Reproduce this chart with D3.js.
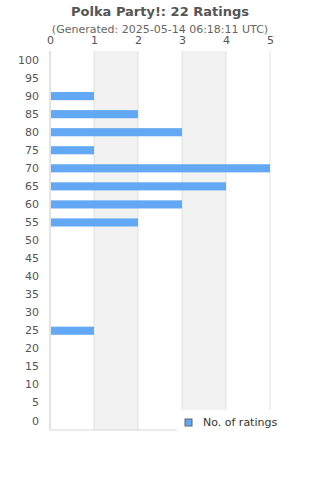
<!DOCTYPE html>
<html>
<head>
<meta charset="utf-8">
<script src="https://cdn.jsdelivr.net/npm/d3@7"></script>
<style>
  body { margin: 0; background: #fff; }
  text { font-family: "DejaVu Sans", sans-serif; }
</style>
</head>
<body>
<div id="chart"></div>
<script>
var svgWidth = 320;
var svgHeight = 480;

// ratings buckets, top to bottom
var buckets = ["100", "95", "90", "85", "80", "75", "70", "65", "60", "55", "50",
  "45", "40", "35", "30", "25", "20", "15", "10", "5", "0"];
var counts = [0, 0, 1, 2, 3, 1, 5, 4, 3, 2, 0, 0, 0, 0, 0, 1, 0, 0, 0, 0, 0];
var xTicks = [0, 1, 2, 3, 4, 5];

var margin = { top: 51, right: 50, bottom: 50, left: 50 };
var width = svgWidth - margin.left - margin.right;
var height = 430 - margin.top;

var svg = d3.select("#chart")
  .append("svg")
  .attr("width", svgWidth)
  .attr("height", svgHeight);

svg.append("text")
  .attr("x", svgWidth / 2)
  .attr("y", 16)
  .attr("text-anchor", "middle")
  .attr("font-size", 13)
  .attr("font-weight", "bold")
  .attr("fill", "#555")
  .text("Polka Party!: 22 Ratings");

svg.append("text")
  .attr("x", svgWidth / 2)
  .attr("y", 33)
  .attr("text-anchor", "middle")
  .attr("font-size", 11)
  .attr("fill", "#666")
  .text("(Generated: 2025-05-14 06:18:11 UTC)");

var chartGroup = svg.append("g")
  .attr("transform", `translate(${margin.left}, ${margin.top})`);

var xScale = d3.scaleLinear().domain([0, 5]).range([0, width]);
var yScale = d3.scaleBand().domain(buckets).range([0, height]).paddingInner(0.55).paddingOuter(0.275);

// alternating bands
chartGroup.selectAll("rect.band")
  .data(xTicks.slice(0, -1).filter(d => d % 2 === 1))
  .enter()
  .append("rect")
  .attr("class", "band")
  .attr("x", d => xScale(d))
  .attr("y", 0)
  .attr("width", d => xScale(d + 1) - xScale(d))
  .attr("height", height)
  .attr("fill", "#f2f2f2");

// grid lines
chartGroup.selectAll("line.grid")
  .data(xTicks)
  .enter()
  .append("line")
  .attr("class", "grid")
  .attr("x1", d => xScale(d))
  .attr("x2", d => xScale(d))
  .attr("y1", 0)
  .attr("y2", height)
  .attr("stroke", "#e0e0e0");

chartGroup.append("line")
  .attr("x1", 0).attr("x2", width)
  .attr("y1", height).attr("y2", height)
  .attr("stroke", "#d8d8d8");

chartGroup.append("line")
  .attr("x1", 0).attr("x2", 0)
  .attr("y1", 0).attr("y2", height)
  .attr("stroke", "#d8d8d8");

// top axis
var topAxis = d3.axisTop(xScale).tickValues(xTicks).tickFormat(d3.format("d"))
  .tickSize(0).tickPadding(7);
var gTop = chartGroup.append("g").call(topAxis);
gTop.select(".domain").remove();
gTop.selectAll("text").attr("font-size", 11).attr("fill", "#555")
  .style("font-family", "DejaVu Sans, sans-serif");

// left axis
var leftAxis = d3.axisLeft(yScale).tickSize(0).tickPadding(11);
var gLeft = chartGroup.append("g").call(leftAxis);
gLeft.select(".domain").remove();
gLeft.selectAll("text").attr("font-size", 11).attr("fill", "#555")
  .style("font-family", "DejaVu Sans, sans-serif");

// bars
chartGroup.selectAll("rect.bar")
  .data(counts)
  .enter()
  .append("rect")
  .attr("class", "bar")
  .attr("x", xScale(0) + 1)
  .attr("y", (d, i) => yScale(buckets[i]))
  .attr("width", d => Math.max(0, xScale(d) - xScale(0) - 1))
  .attr("height", yScale.bandwidth())
  .attr("fill", "#62a8f4");

// legend
var legend = svg.append("g").attr("transform", "translate(177, 410)");
legend.append("rect")
  .attr("width", 103).attr("height", 24)
  .attr("fill", "#fff");
legend.append("rect")
  .attr("x", 8).attr("y", 9)
  .attr("width", 7).attr("height", 7)
  .attr("fill", "#62a8f4")
  .attr("stroke", "#666");
legend.append("text")
  .attr("x", 26).attr("y", 16)
  .attr("font-size", 11)
  .attr("fill", "#333")
  .text("No. of ratings");
</script>
</body>
</html>
